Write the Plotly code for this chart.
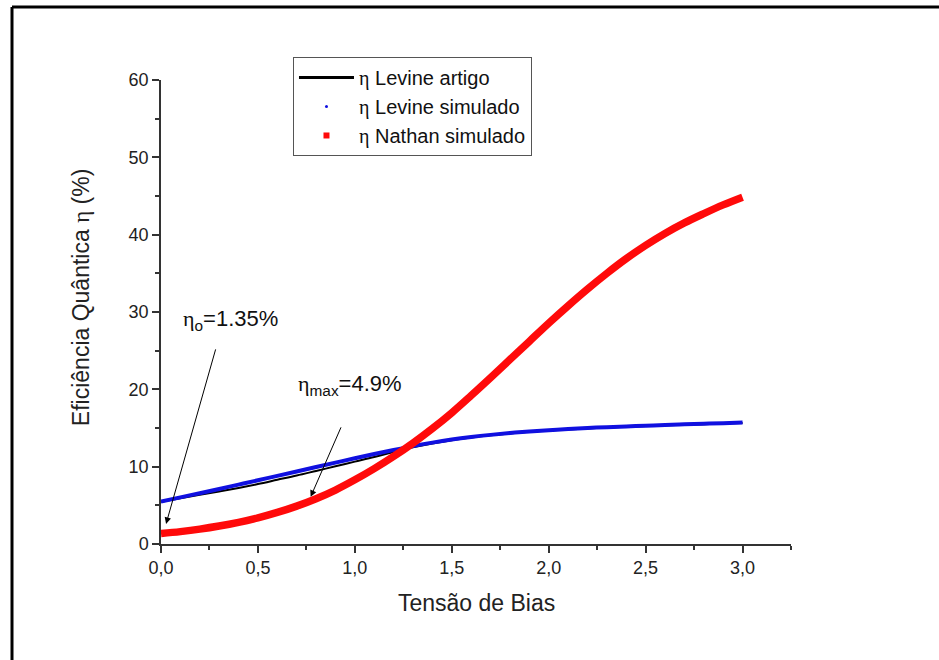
import plotly.graph_objects as go

# Bias voltage (V)
bias = [0.0, 0.1, 0.2, 0.3, 0.4, 0.5, 0.6, 0.7, 0.8, 0.9, 1.0,
        1.1, 1.2, 1.3, 1.4, 1.5, 1.6, 1.7, 1.8, 1.9, 2.0,
        2.1, 2.2, 2.3, 2.4, 2.5, 2.6, 2.7, 2.8, 2.9, 3.0]

# Quantum efficiency (%)
levine_artigo = [5.45, 5.9, 6.35, 6.8, 7.25, 7.75, 8.3, 8.85, 9.45, 10.05, 10.65,
                 11.25, 11.9, 12.5, 13.0, 13.43, 13.77, 14.06, 14.3, 14.5, 14.67,
                 14.82, 14.95, 15.06, 15.16, 15.25, 15.34, 15.42, 15.5, 15.58, 15.65]
levine_simulado = [5.5, 6.03, 6.57, 7.12, 7.68, 8.24, 8.81, 9.38, 9.95, 10.52, 11.08,
                   11.63, 12.16, 12.66, 13.11, 13.5, 13.83, 14.11, 14.35, 14.55, 14.72,
                   14.87, 15.0, 15.11, 15.21, 15.3, 15.39, 15.47, 15.55, 15.63, 15.7]
nathan_simulado = [1.35, 1.6, 1.92, 2.32, 2.8, 3.38, 4.08, 4.9, 5.86, 6.98, 8.3,
                   9.75, 11.33, 13.05, 14.93, 16.97, 19.2, 21.5, 23.85, 26.2, 28.55,
                   30.8, 32.96, 35.0, 36.9, 38.62, 40.16, 41.52, 42.72, 43.85, 44.85]

x_ticks = [0.0, 0.5, 1.0, 1.5, 2.0, 2.5, 3.0]
y_ticks = [0, 10, 20, 30, 40, 50, 60]

ETA = '<span style="font-family:Liberation Serif">η</span>'
FONT = "Liberation Sans, Arial, sans-serif"

fig = go.Figure()

fig.add_trace(go.Scatter(x=bias, y=levine_artigo, mode="lines",
                         line=dict(color="black", width=2, shape="spline"), showlegend=False))
fig.add_trace(go.Scatter(x=bias, y=levine_simulado, mode="lines",
                         line=dict(color="#1010e0", width=4, shape="spline"), showlegend=False))
fig.add_trace(go.Scatter(x=bias, y=nathan_simulado, mode="lines",
                         line=dict(color="#ff0a0a", width=7.5, shape="spline"), showlegend=False))

# legend entries
fig.add_trace(go.Scatter(x=[None], y=[None], mode="lines", line=dict(color="black", width=3),
                         name=f"{ETA} Levine artigo"))
fig.add_trace(go.Scatter(x=[None], y=[None], mode="markers",
                         marker=dict(color="#1010e0", size=3, symbol="circle"),
                         name=f"{ETA} Levine simulado"))
fig.add_trace(go.Scatter(x=[None], y=[None], mode="markers",
                         marker=dict(color="#ff0a0a", size=6, symbol="square"),
                         name=f"{ETA} Nathan simulado"))

axis_common = dict(
    showgrid=False, zeroline=False, showline=True, linecolor="#333", linewidth=1.5,
    ticks="outside", ticklen=7, tickwidth=1.5, tickcolor="#333",
    tickfont=dict(family=FONT, size=18, color="#222"),
)

fig.update_xaxes(range=[0, 3.25], tickvals=x_ticks, tickformat=".1f",
                 minor=dict(ticks="outside", ticklen=4, tickwidth=1.5, tickcolor="#333",
                            dtick=0.25, tick0=0),
                 **axis_common)
fig.update_yaxes(range=[0, 60], tickvals=y_ticks,
                 minor=dict(ticks="outside", ticklen=4, tickwidth=1.5, tickcolor="#333",
                            dtick=5, tick0=0),
                 **axis_common)

annotations = [
    dict(x=0.026, y=2.6, ax=50, ay=-176, text="", showarrow=True, arrowhead=2, arrowsize=1.3,
         arrowwidth=1, arrowcolor="black", xref="x", yref="y"),
    dict(x=0.772, y=6.1, ax=31, ay=-71, text="", showarrow=True, arrowhead=2, arrowsize=1.3,
         arrowwidth=1, arrowcolor="black", xref="x", yref="y"),
    dict(x=0.111, y=0.4828, xref="paper", yref="paper", xanchor="center", yanchor="middle",
         text=f"{ETA}<sub>o</sub>=1.35%", showarrow=False,
         font=dict(family=FONT, size=22, color="#111")),
    dict(x=0.30, y=0.3427, xref="paper", yref="paper", xanchor="center", yanchor="middle",
         text=f"{ETA}<sub>max</sub>=4.9%", showarrow=False,
         font=dict(family=FONT, size=22, color="#111")),
    dict(x=0.5, y=-0.127, xref="paper", yref="paper", xanchor="center", yanchor="middle",
         text="Tensão de Bias", showarrow=False,
         font=dict(family=FONT, size=23, color="#222")),
    dict(x=-0.127, y=0.532, xref="paper", yref="paper", xanchor="center", yanchor="middle",
         text=f"Eficiência Quântica {ETA} (%)", textangle=-90, showarrow=False,
         font=dict(family=FONT, size=23, color="#222")),
]

# outer frame lines (top and left)
shapes = [
    dict(type="line", xref="paper", yref="paper", x0=-0.2365, x1=1.26, y0=1.1573, y1=1.1573,
         line=dict(color="black", width=3)),
    dict(type="line", xref="paper", yref="paper", x0=-0.2365, x1=-0.2365, y0=1.1573, y1=-0.28,
         line=dict(color="black", width=3)),
]

fig.update_layout(
    width=939, height=660,
    margin=dict(l=161, r=148, t=80, b=116),
    paper_bgcolor="white", plot_bgcolor="white",
    separators=",.",
    annotations=annotations,
    shapes=shapes,
    legend=dict(x=0.2095, y=1.0496, xanchor="left", yanchor="top",
                bordercolor="#555", borderwidth=1, bgcolor="white",
                font=dict(family=FONT, size=20, color="#111"),
                itemwidth=55, tracegroupgap=0, entrywidth=272, entrywidthmode="pixels"),
)

fig.write_html("out.html")
